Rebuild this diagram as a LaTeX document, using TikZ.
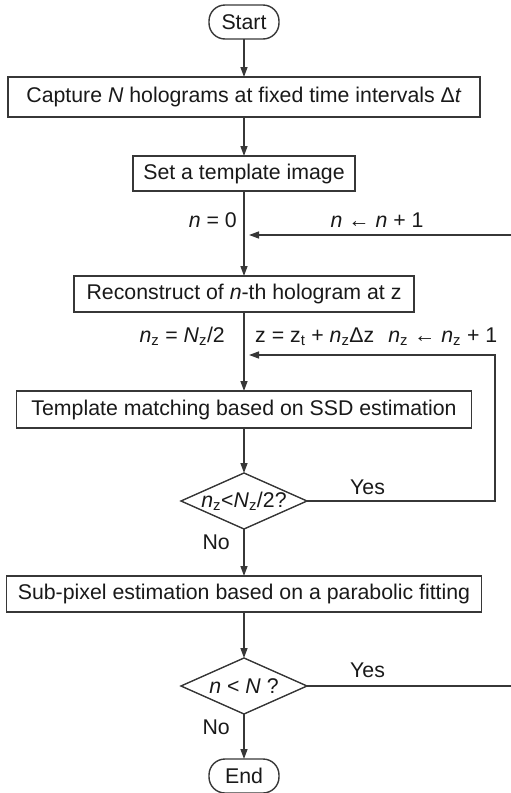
\documentclass[tikz,border=0pt]{standalone}
\usepackage{fontspec}
\setmainfont{Liberation Sans}
\usetikzlibrary{positioning, arrows.meta, shapes.geometric}
\definecolor{inkgray}{RGB}{55,55,55}
\definecolor{txtgray}{RGB}{25,25,25}
\newcommand{\zsub}{\textsubscript{z}}

\begin{document}
\begin{tikzpicture}[
  x=1pt, y=1pt,
  every node/.style={text=txtgray, font=\fontsize{21.3}{25}\selectfont},
  box/.style={rectangle, draw=inkgray, line width=1.4pt, inner sep=2pt, outer sep=0pt, align=center},
  term/.style={rectangle, draw=inkgray, line width=1.4pt, rounded corners=16pt, minimum width=70pt, minimum height=34pt, inner sep=0pt, outer sep=0pt},
  dec/.style={diamond, draw=inkgray, line width=1.4pt, minimum width=126pt, minimum height=56pt, inner sep=0pt, outer sep=0pt},
  lbl/.style={inner sep=1pt},
  flow/.style={draw=inkgray, line width=1.4pt, -{Triangle[length=10pt, width=7pt]}}
]
\useasboundingbox (0,0) rectangle (511,-793);

% main column
\node[term] (start) at (244,-22) {Start};
\node[box, minimum width=472pt, minimum height=40pt, below=38pt of start] (capture) {Capture \textit{N} holograms at fixed time intervals Δ\textit{t}};
\node[box, minimum width=222pt, minimum height=35pt, below=39pt of capture] (template) {Set a template image};
\node[box, minimum width=340pt, minimum height=36pt, below=85pt of template] (recon) {Reconstruct of \textit{n}-th hologram at z};
\node[box, minimum width=455pt, minimum height=37pt, below=79pt of recon] (match) {Template matching based on SSD estimation};
\node[dec, below=45pt of match, label={center:\textit{n}\zsub<\textit{N}\zsub/2?}] (d1) {};
\node[box, minimum width=475pt, minimum height=36pt, below=47pt of d1] (subpix) {Sub-pixel estimation based on a parabolic fitting};
\node[dec, below=46pt of subpix, label={center:\textit{n} < \textit{N} ?}] (d2) {};
\node[term, below=45pt of d2] (end) {End};

% loop joints
\coordinate[below=44pt of template.south] (j1);
\coordinate[below=43pt of recon.south] (j2);
\coordinate (rail) at (495,0);
\coordinate (edge) at (512,0);

% labels
\node[lbl, above left=6pt and 6pt of j1] (n0) {\textit{n} = 0};
\node[lbl] (ninc) at (377,-220) {\textit{n} ← \textit{n} + 1};
\node[lbl, above left=8pt and 18pt of j2] (nz0) {\textit{n}\zsub{} = \textit{N}\zsub/2};
\node[lbl, above right=8pt and 10pt of j2] (zinc) {z = z\textsubscript{t} + \textit{n}\zsub Δz\hspace{14pt}\textit{n}\zsub{} ← \textit{n}\zsub{} + 1};
\node[lbl, above right=5pt and 42pt of d1.east] (yes1) {Yes};
\node[lbl, below left=5pt and 13pt of d1.south] (no1) {No};
\node[lbl, above right=7pt and 42pt of d2.east] (yes2) {Yes};
\node[lbl, below left=5pt and 13pt of d2.south] (no2) {No};

% connectors
\draw[flow] (start) -- (capture);
\draw[flow] (capture) -- (template);
\draw[flow] (template) -- (recon);
\draw[flow] (recon) -- (match);
\draw[flow] (match) -- (d1);
\draw[flow] (d1) -- (subpix);
\draw[flow] (subpix) -- (d2);
\draw[flow] (d2) -- (end);
\draw[flow, shorten >=5pt] (d1.east) -- (rail |- d1) -- (rail |- j2) -- (j2);
\draw[flow, shorten >=5pt] (d2.east) -- (edge |- d2) -- (edge |- j1) -- (j1);
\end{tikzpicture}
\end{document}
